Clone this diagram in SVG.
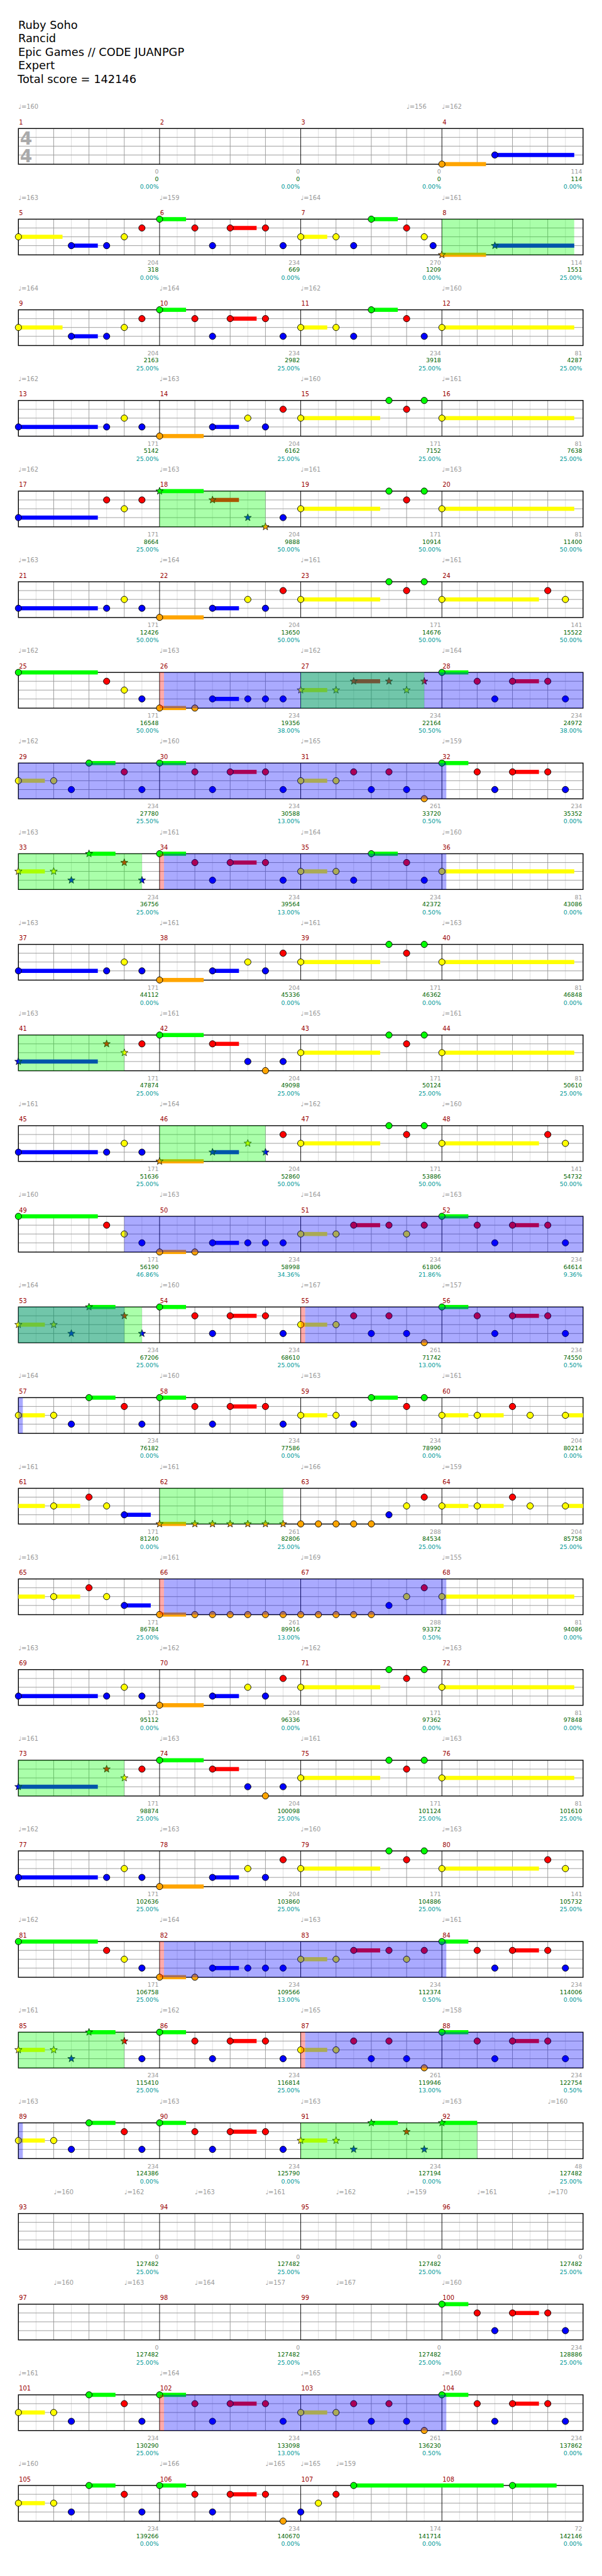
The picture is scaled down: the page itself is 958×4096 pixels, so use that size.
<svg xmlns="http://www.w3.org/2000/svg" width="958" height="4096" viewBox="0 0 958 4096">
<style>
.G{fill:#0f0}.R{fill:#f00}.Y{fill:#ff0}.B{fill:#00f}.O{fill:#ffa500}
.ob{fill:#00f;fill-opacity:.333}.og{fill:#0f0;fill-opacity:.333}.op{fill:#f00;fill-opacity:.333}
text{font-family:"DejaVu Sans",sans-serif}
.t{font-size:19px;fill:#000}
.mn{font-size:10.5px;fill:#900}
.tp{font-size:10.5px;fill:#999}
.sg,.sn,.sp{font-size:10px;text-anchor:end}
.sg{fill:#999}.sn{fill:#060}.sp{fill:#099}
.ts{font-size:30px;font-weight:bold;fill:#aaa;text-anchor:middle}
</style>
<defs>
<g id="staff">
<path d="M30 0V60.7M90 0V60.7M150 0V60.7M210 0V60.7M270 0V60.7M330 0V60.7M390 0V60.7M450 0V60.7M510 0V60.7M570 0V60.7M630 0V60.7M690 0V60.7M750 0V60.7M810 0V60.7M870 0V60.7M930 0V60.7" stroke="#ddd" stroke-width="1"/>
<path d="M0 15H960M0 30H960M0 45H960M60 0V60.7M120 0V60.7M180 0V60.7M300 0V60.7M360 0V60.7M420 0V60.7M540 0V60.7M600 0V60.7M660 0V60.7M780 0V60.7M840 0V60.7M900 0V60.7" stroke="#999" stroke-width="1"/>
<path d="M240 0V60.7M480 0V60.7M720 0V60.7" stroke="#000" stroke-width="1"/>
<rect x="0" y="0" width="960" height="60.7" fill="none" stroke="#000" stroke-width="1.5"/>
</g>
<circle id="n" r="5.4" stroke="#000" stroke-width="1"/>
<path id="s" d="M0,-6.5L1.59,-2.18L6.18,-2.01L2.57,0.83L3.82,5.26L0,2.7L-3.82,5.26L-2.57,0.83L-6.18,-2.01L-1.59,-2.18Z" stroke="#000" stroke-width="0.8" stroke-linejoin="round"/>
</defs>
<rect width="958" height="4096" fill="#fff"/>
<g transform="scale(0.936)">
<g id="header">
<text class="t" x="31" y="49">Ruby Soho</text>
<text class="t" x="31" y="72">Rancid</text>
<text class="t" x="31" y="95">Epic Games // CODE JUANPGP</text>
<text class="t" x="31" y="118">Expert</text>
<text class="t" x="30" y="141">Total score = 142146</text>
</g>

<g id="row1" transform="translate(31.3,218.3)">
<use href="#staff"/>
<text class="ts" x="13" y="27">4</text><text class="ts" x="13" y="57">4</text>
<text class="mn" x="1" y="-7">1</text><text class="mn" x="241" y="-7">2</text><text class="mn" x="481" y="-7">3</text><text class="mn" x="721" y="-7">4</text>
<text class="tp" x="0" y="-33">♩=160</text><text class="tp" x="660" y="-33">♩=156</text><text class="tp" x="720" y="-33">♩=162</text>
<rect class="O" x="720" y="57" width="75" height="7"/><rect class="B" x="810" y="41.5" width="135" height="7"/>
<use href="#n" class="O" x="720" y="60.5"/><use href="#n" class="B" x="810" y="45"/>
<text class="sg" x="238.5" y="77">0</text><text class="sn" x="238.5" y="89.4">0</text><text class="sp" x="238.5" y="102.7">0.00%</text>
<text class="sg" x="478.5" y="77">0</text><text class="sn" x="478.5" y="89.4">0</text><text class="sp" x="478.5" y="102.7">0.00%</text>
<text class="sg" x="718.5" y="77">0</text><text class="sn" x="718.5" y="89.4">0</text><text class="sp" x="718.5" y="102.7">0.00%</text>
<text class="sg" x="958.5" y="77">114</text><text class="sn" x="958.5" y="89.4">114</text><text class="sp" x="958.5" y="102.7">0.00%</text>
</g>

<g id="row2" transform="translate(31.3,372.3)">
<use href="#staff"/>
<text class="mn" x="1" y="-7">5</text><text class="mn" x="241" y="-7">6</text><text class="mn" x="481" y="-7">7</text><text class="mn" x="721" y="-7">8</text>
<text class="tp" x="0" y="-33">♩=163</text><text class="tp" x="240" y="-33">♩=159</text><text class="tp" x="480" y="-33">♩=164</text><text class="tp" x="720" y="-33">♩=161</text>
<rect class="Y" x="0" y="26.5" width="75" height="7"/><rect class="B" x="90" y="41.5" width="45" height="7"/><rect class="G" x="240" y="-3.5" width="45" height="7"/><rect class="R" x="360" y="11.5" width="45" height="7"/><rect class="Y" x="480" y="26.5" width="45" height="7"/><rect class="G" x="600" y="-3.5" width="45" height="7"/><rect class="O" x="720" y="57" width="75" height="7"/><rect class="B" x="810" y="41.5" width="135" height="7"/>
<use href="#n" class="Y" x="0" y="30"/><use href="#n" class="B" x="90" y="45"/><use href="#n" class="B" x="150" y="45"/><use href="#n" class="Y" x="180" y="30"/><use href="#n" class="R" x="210" y="15"/><use href="#n" class="G" x="240" y="0"/><use href="#n" class="R" x="300" y="15"/><use href="#n" class="B" x="330" y="45"/><use href="#n" class="R" x="360" y="15"/><use href="#n" class="R" x="420" y="15"/><use href="#n" class="B" x="450" y="45"/><use href="#n" class="Y" x="480" y="30"/><use href="#n" class="Y" x="540" y="30"/><use href="#n" class="B" x="570" y="45"/><use href="#n" class="G" x="600" y="0"/><use href="#n" class="R" x="660" y="15"/><use href="#n" class="Y" x="690" y="30"/><use href="#n" class="B" x="705" y="45"/>
<use href="#s" class="O" x="720" y="60.5"/><use href="#s" class="B" x="810" y="45"/>
<rect class="og" x="720" y="0" width="225" height="60.7"/>
<text class="sg" x="238.5" y="77">204</text><text class="sn" x="238.5" y="89.4">318</text><text class="sp" x="238.5" y="102.7">0.00%</text>
<text class="sg" x="478.5" y="77">234</text><text class="sn" x="478.5" y="89.4">669</text><text class="sp" x="478.5" y="102.7">0.00%</text>
<text class="sg" x="718.5" y="77">270</text><text class="sn" x="718.5" y="89.4">1209</text><text class="sp" x="718.5" y="102.7">0.00%</text>
<text class="sg" x="958.5" y="77">114</text><text class="sn" x="958.5" y="89.4">1551</text><text class="sp" x="958.5" y="102.7">25.00%</text>
</g>

<g id="row3" transform="translate(31.3,526.3)">
<use href="#staff"/>
<text class="mn" x="1" y="-7">9</text><text class="mn" x="241" y="-7">10</text><text class="mn" x="481" y="-7">11</text><text class="mn" x="721" y="-7">12</text>
<text class="tp" x="0" y="-33">♩=164</text><text class="tp" x="240" y="-33">♩=164</text><text class="tp" x="480" y="-33">♩=162</text><text class="tp" x="720" y="-33">♩=160</text>
<rect class="Y" x="0" y="26.5" width="75" height="7"/><rect class="B" x="90" y="41.5" width="45" height="7"/><rect class="G" x="240" y="-3.5" width="45" height="7"/><rect class="R" x="360" y="11.5" width="45" height="7"/><rect class="Y" x="480" y="26.5" width="45" height="7"/><rect class="G" x="600" y="-3.5" width="45" height="7"/><rect class="Y" x="720" y="26.5" width="225" height="7"/>
<use href="#n" class="Y" x="0" y="30"/><use href="#n" class="B" x="90" y="45"/><use href="#n" class="B" x="150" y="45"/><use href="#n" class="Y" x="180" y="30"/><use href="#n" class="R" x="210" y="15"/><use href="#n" class="G" x="240" y="0"/><use href="#n" class="R" x="300" y="15"/><use href="#n" class="B" x="330" y="45"/><use href="#n" class="R" x="360" y="15"/><use href="#n" class="R" x="420" y="15"/><use href="#n" class="B" x="450" y="45"/><use href="#n" class="Y" x="480" y="30"/><use href="#n" class="Y" x="540" y="30"/><use href="#n" class="B" x="570" y="45"/><use href="#n" class="G" x="600" y="0"/><use href="#n" class="R" x="660" y="15"/><use href="#n" class="B" x="690" y="45"/><use href="#n" class="Y" x="720" y="30"/>
<text class="sg" x="238.5" y="77">204</text><text class="sn" x="238.5" y="89.4">2163</text><text class="sp" x="238.5" y="102.7">25.00%</text>
<text class="sg" x="478.5" y="77">234</text><text class="sn" x="478.5" y="89.4">2982</text><text class="sp" x="478.5" y="102.7">25.00%</text>
<text class="sg" x="718.5" y="77">234</text><text class="sn" x="718.5" y="89.4">3918</text><text class="sp" x="718.5" y="102.7">25.00%</text>
<text class="sg" x="958.5" y="77">81</text><text class="sn" x="958.5" y="89.4">4287</text><text class="sp" x="958.5" y="102.7">25.00%</text>
</g>

<g id="row4" transform="translate(31.3,680.3)">
<use href="#staff"/>
<text class="mn" x="1" y="-7">13</text><text class="mn" x="241" y="-7">14</text><text class="mn" x="481" y="-7">15</text><text class="mn" x="721" y="-7">16</text>
<text class="tp" x="0" y="-33">♩=162</text><text class="tp" x="240" y="-33">♩=163</text><text class="tp" x="480" y="-33">♩=160</text><text class="tp" x="720" y="-33">♩=161</text>
<rect class="B" x="0" y="41.5" width="135" height="7"/><rect class="O" x="240" y="57" width="75" height="7"/><rect class="B" x="330" y="41.5" width="45" height="7"/><rect class="Y" x="480" y="26.5" width="135" height="7"/><rect class="Y" x="720" y="26.5" width="225" height="7"/>
<use href="#n" class="B" x="0" y="45"/><use href="#n" class="B" x="150" y="45"/><use href="#n" class="Y" x="180" y="30"/><use href="#n" class="B" x="210" y="45"/><use href="#n" class="O" x="240" y="60.5"/><use href="#n" class="B" x="330" y="45"/><use href="#n" class="Y" x="390" y="30"/><use href="#n" class="B" x="420" y="45"/><use href="#n" class="R" x="450" y="15"/><use href="#n" class="Y" x="480" y="30"/><use href="#n" class="G" x="630" y="0"/><use href="#n" class="R" x="660" y="15"/><use href="#n" class="G" x="690" y="0"/><use href="#n" class="Y" x="720" y="30"/>
<text class="sg" x="238.5" y="77">171</text><text class="sn" x="238.5" y="89.4">5142</text><text class="sp" x="238.5" y="102.7">25.00%</text>
<text class="sg" x="478.5" y="77">204</text><text class="sn" x="478.5" y="89.4">6162</text><text class="sp" x="478.5" y="102.7">25.00%</text>
<text class="sg" x="718.5" y="77">171</text><text class="sn" x="718.5" y="89.4">7152</text><text class="sp" x="718.5" y="102.7">25.00%</text>
<text class="sg" x="958.5" y="77">81</text><text class="sn" x="958.5" y="89.4">7638</text><text class="sp" x="958.5" y="102.7">25.00%</text>
</g>

<g id="row5" transform="translate(31.3,834.3)">
<use href="#staff"/>
<text class="mn" x="1" y="-7">17</text><text class="mn" x="241" y="-7">18</text><text class="mn" x="481" y="-7">19</text><text class="mn" x="721" y="-7">20</text>
<text class="tp" x="0" y="-33">♩=162</text><text class="tp" x="240" y="-33">♩=163</text><text class="tp" x="480" y="-33">♩=161</text><text class="tp" x="720" y="-33">♩=163</text>
<rect class="B" x="0" y="41.5" width="135" height="7"/><rect class="G" x="240" y="-3.5" width="75" height="7"/><rect class="R" x="330" y="11.5" width="45" height="7"/><rect class="Y" x="480" y="26.5" width="135" height="7"/><rect class="Y" x="720" y="26.5" width="225" height="7"/>
<use href="#n" class="B" x="0" y="45"/><use href="#n" class="R" x="150" y="15"/><use href="#n" class="Y" x="180" y="30"/><use href="#n" class="R" x="210" y="15"/>
<use href="#s" class="G" x="240" y="0"/><use href="#s" class="R" x="330" y="15"/><use href="#s" class="B" x="390" y="45"/><use href="#s" class="O" x="420" y="60.5"/>
<use href="#n" class="B" x="450" y="45"/><use href="#n" class="Y" x="480" y="30"/><use href="#n" class="G" x="630" y="0"/><use href="#n" class="R" x="660" y="15"/><use href="#n" class="G" x="690" y="0"/><use href="#n" class="Y" x="720" y="30"/>
<rect class="og" x="240" y="0" width="180" height="60.7"/>
<text class="sg" x="238.5" y="77">171</text><text class="sn" x="238.5" y="89.4">8664</text><text class="sp" x="238.5" y="102.7">25.00%</text>
<text class="sg" x="478.5" y="77">204</text><text class="sn" x="478.5" y="89.4">9888</text><text class="sp" x="478.5" y="102.7">50.00%</text>
<text class="sg" x="718.5" y="77">171</text><text class="sn" x="718.5" y="89.4">10914</text><text class="sp" x="718.5" y="102.7">50.00%</text>
<text class="sg" x="958.5" y="77">81</text><text class="sn" x="958.5" y="89.4">11400</text><text class="sp" x="958.5" y="102.7">50.00%</text>
</g>

<g id="row6" transform="translate(31.3,988.3)">
<use href="#staff"/>
<text class="mn" x="1" y="-7">21</text><text class="mn" x="241" y="-7">22</text><text class="mn" x="481" y="-7">23</text><text class="mn" x="721" y="-7">24</text>
<text class="tp" x="0" y="-33">♩=163</text><text class="tp" x="240" y="-33">♩=164</text><text class="tp" x="480" y="-33">♩=161</text><text class="tp" x="720" y="-33">♩=161</text>
<rect class="B" x="0" y="41.5" width="135" height="7"/><rect class="O" x="240" y="57" width="75" height="7"/><rect class="B" x="330" y="41.5" width="45" height="7"/><rect class="Y" x="480" y="26.5" width="135" height="7"/><rect class="Y" x="720" y="26.5" width="165" height="7"/>
<use href="#n" class="B" x="0" y="45"/><use href="#n" class="B" x="150" y="45"/><use href="#n" class="Y" x="180" y="30"/><use href="#n" class="B" x="210" y="45"/><use href="#n" class="O" x="240" y="60.5"/><use href="#n" class="B" x="330" y="45"/><use href="#n" class="Y" x="390" y="30"/><use href="#n" class="B" x="420" y="45"/><use href="#n" class="R" x="450" y="15"/><use href="#n" class="Y" x="480" y="30"/><use href="#n" class="G" x="630" y="0"/><use href="#n" class="R" x="660" y="15"/><use href="#n" class="G" x="690" y="0"/><use href="#n" class="Y" x="720" y="30"/><use href="#n" class="R" x="900" y="15"/><use href="#n" class="Y" x="930" y="30"/>
<text class="sg" x="238.5" y="77">171</text><text class="sn" x="238.5" y="89.4">12426</text><text class="sp" x="238.5" y="102.7">50.00%</text>
<text class="sg" x="478.5" y="77">204</text><text class="sn" x="478.5" y="89.4">13650</text><text class="sp" x="478.5" y="102.7">50.00%</text>
<text class="sg" x="718.5" y="77">171</text><text class="sn" x="718.5" y="89.4">14676</text><text class="sp" x="718.5" y="102.7">50.00%</text>
<text class="sg" x="958.5" y="77">141</text><text class="sn" x="958.5" y="89.4">15522</text><text class="sp" x="958.5" y="102.7">50.00%</text>
</g>

<g id="row7" transform="translate(31.3,1142.3)">
<use href="#staff"/>
<text class="mn" x="1" y="-7">25</text><text class="mn" x="241" y="-7">26</text><text class="mn" x="481" y="-7">27</text><text class="mn" x="721" y="-7">28</text>
<text class="tp" x="0" y="-33">♩=162</text><text class="tp" x="240" y="-33">♩=163</text><text class="tp" x="480" y="-33">♩=162</text><text class="tp" x="720" y="-33">♩=164</text>
<rect class="G" x="0" y="-3.5" width="135" height="7"/><rect class="O" x="240" y="57" width="45" height="7"/><rect class="B" x="330" y="41.5" width="45" height="7"/><rect class="Y" x="480" y="26.5" width="45" height="7"/><rect class="R" x="570" y="11.5" width="45" height="7"/><rect class="G" x="720" y="-3.5" width="45" height="7"/><rect class="R" x="840" y="11.5" width="45" height="7"/>
<use href="#n" class="G" x="0" y="0"/><use href="#n" class="R" x="150" y="15"/><use href="#n" class="Y" x="180" y="30"/><use href="#n" class="B" x="210" y="45"/><use href="#n" class="O" x="240" y="60.5"/><use href="#n" class="O" x="300" y="60.5"/><use href="#n" class="B" x="330" y="45"/><use href="#n" class="B" x="390" y="45"/><use href="#n" class="B" x="420" y="45"/><use href="#n" class="B" x="450" y="45"/>
<use href="#s" class="Y" x="480" y="30"/><use href="#s" class="Y" x="540" y="30"/><use href="#s" class="R" x="570" y="15"/><use href="#s" class="R" x="630" y="15"/><use href="#s" class="Y" x="660" y="30"/><use href="#s" class="R" x="690" y="15"/>
<use href="#n" class="G" x="720" y="0"/><use href="#n" class="R" x="780" y="15"/><use href="#n" class="B" x="810" y="45"/><use href="#n" class="R" x="840" y="15"/><use href="#n" class="R" x="900" y="15"/><use href="#n" class="B" x="930" y="45"/>
<rect class="op" x="240" y="0" width="7.5" height="60.7"/><rect class="ob" x="247.5" y="0" width="712.5" height="60.7"/><rect class="og" x="480" y="0" width="210" height="60.7"/>
<text class="sg" x="238.5" y="77">171</text><text class="sn" x="238.5" y="89.4">16548</text><text class="sp" x="238.5" y="102.7">50.00%</text>
<text class="sg" x="478.5" y="77">234</text><text class="sn" x="478.5" y="89.4">19356</text><text class="sp" x="478.5" y="102.7">38.00%</text>
<text class="sg" x="718.5" y="77">234</text><text class="sn" x="718.5" y="89.4">22164</text><text class="sp" x="718.5" y="102.7">50.50%</text>
<text class="sg" x="958.5" y="77">234</text><text class="sn" x="958.5" y="89.4">24972</text><text class="sp" x="958.5" y="102.7">38.00%</text>
</g>

<g id="row8" transform="translate(31.3,1296.3)">
<use href="#staff"/>
<text class="mn" x="1" y="-7">29</text><text class="mn" x="241" y="-7">30</text><text class="mn" x="481" y="-7">31</text><text class="mn" x="721" y="-7">32</text>
<text class="tp" x="0" y="-33">♩=162</text><text class="tp" x="240" y="-33">♩=160</text><text class="tp" x="480" y="-33">♩=165</text><text class="tp" x="720" y="-33">♩=159</text>
<rect class="Y" x="0" y="26.5" width="45" height="7"/><rect class="G" x="120" y="-3.5" width="45" height="7"/><rect class="G" x="240" y="-3.5" width="45" height="7"/><rect class="R" x="360" y="11.5" width="45" height="7"/><rect class="Y" x="480" y="26.5" width="45" height="7"/><rect class="G" x="720" y="-3.5" width="45" height="7"/><rect class="R" x="840" y="11.5" width="45" height="7"/>
<use href="#n" class="Y" x="0" y="30"/><use href="#n" class="Y" x="60" y="30"/><use href="#n" class="B" x="90" y="45"/><use href="#n" class="G" x="120" y="0"/><use href="#n" class="R" x="180" y="15"/><use href="#n" class="B" x="210" y="45"/><use href="#n" class="G" x="240" y="0"/><use href="#n" class="R" x="300" y="15"/><use href="#n" class="B" x="330" y="45"/><use href="#n" class="R" x="360" y="15"/><use href="#n" class="R" x="420" y="15"/><use href="#n" class="B" x="450" y="45"/><use href="#n" class="Y" x="480" y="30"/><use href="#n" class="Y" x="540" y="30"/><use href="#n" class="R" x="570" y="15"/><use href="#n" class="B" x="600" y="45"/><use href="#n" class="R" x="630" y="15"/><use href="#n" class="B" x="660" y="45"/><use href="#n" class="O" x="690" y="60.5"/><use href="#n" class="G" x="720" y="0"/><use href="#n" class="R" x="780" y="15"/><use href="#n" class="B" x="810" y="45"/><use href="#n" class="R" x="840" y="15"/><use href="#n" class="R" x="900" y="15"/><use href="#n" class="B" x="930" y="45"/>
<rect class="ob" x="0" y="0" width="727.5" height="60.7"/>
<text class="sg" x="238.5" y="77">234</text><text class="sn" x="238.5" y="89.4">27780</text><text class="sp" x="238.5" y="102.7">25.50%</text>
<text class="sg" x="478.5" y="77">234</text><text class="sn" x="478.5" y="89.4">30588</text><text class="sp" x="478.5" y="102.7">13.00%</text>
<text class="sg" x="718.5" y="77">261</text><text class="sn" x="718.5" y="89.4">33720</text><text class="sp" x="718.5" y="102.7">0.50%</text>
<text class="sg" x="958.5" y="77">234</text><text class="sn" x="958.5" y="89.4">35352</text><text class="sp" x="958.5" y="102.7">0.00%</text>
</g>

<g id="row9" transform="translate(31.3,1450.3)">
<use href="#staff"/>
<text class="mn" x="1" y="-7">33</text><text class="mn" x="241" y="-7">34</text><text class="mn" x="481" y="-7">35</text><text class="mn" x="721" y="-7">36</text>
<text class="tp" x="0" y="-33">♩=163</text><text class="tp" x="240" y="-33">♩=161</text><text class="tp" x="480" y="-33">♩=164</text><text class="tp" x="720" y="-33">♩=160</text>
<rect class="Y" x="0" y="26.5" width="45" height="7"/><rect class="G" x="120" y="-3.5" width="45" height="7"/><rect class="G" x="240" y="-3.5" width="45" height="7"/><rect class="R" x="360" y="11.5" width="45" height="7"/><rect class="Y" x="480" y="26.5" width="45" height="7"/><rect class="G" x="600" y="-3.5" width="45" height="7"/><rect class="Y" x="720" y="26.5" width="225" height="7"/>
<use href="#s" class="Y" x="0" y="30"/><use href="#s" class="Y" x="60" y="30"/><use href="#s" class="B" x="90" y="45"/><use href="#s" class="G" x="120" y="0"/><use href="#s" class="R" x="180" y="15"/><use href="#s" class="B" x="210" y="45"/>
<use href="#n" class="G" x="240" y="0"/><use href="#n" class="R" x="300" y="15"/><use href="#n" class="B" x="330" y="45"/><use href="#n" class="R" x="360" y="15"/><use href="#n" class="R" x="420" y="15"/><use href="#n" class="B" x="450" y="45"/><use href="#n" class="Y" x="480" y="30"/><use href="#n" class="Y" x="540" y="30"/><use href="#n" class="B" x="570" y="45"/><use href="#n" class="G" x="600" y="0"/><use href="#n" class="R" x="660" y="15"/><use href="#n" class="B" x="690" y="45"/><use href="#n" class="Y" x="720" y="30"/>
<rect class="og" x="0" y="0" width="210" height="60.7"/><rect class="op" x="240" y="0" width="7.5" height="60.7"/><rect class="ob" x="247.5" y="0" width="480" height="60.7"/>
<text class="sg" x="238.5" y="77">234</text><text class="sn" x="238.5" y="89.4">36756</text><text class="sp" x="238.5" y="102.7">25.00%</text>
<text class="sg" x="478.5" y="77">234</text><text class="sn" x="478.5" y="89.4">39564</text><text class="sp" x="478.5" y="102.7">13.00%</text>
<text class="sg" x="718.5" y="77">234</text><text class="sn" x="718.5" y="89.4">42372</text><text class="sp" x="718.5" y="102.7">0.50%</text>
<text class="sg" x="958.5" y="77">81</text><text class="sn" x="958.5" y="89.4">43086</text><text class="sp" x="958.5" y="102.7">0.00%</text>
</g>

<g id="row10" transform="translate(31.3,1604.3)">
<use href="#staff"/>
<text class="mn" x="1" y="-7">37</text><text class="mn" x="241" y="-7">38</text><text class="mn" x="481" y="-7">39</text><text class="mn" x="721" y="-7">40</text>
<text class="tp" x="0" y="-33">♩=163</text><text class="tp" x="240" y="-33">♩=161</text><text class="tp" x="480" y="-33">♩=161</text><text class="tp" x="720" y="-33">♩=163</text>
<rect class="B" x="0" y="41.5" width="135" height="7"/><rect class="O" x="240" y="57" width="75" height="7"/><rect class="B" x="330" y="41.5" width="45" height="7"/><rect class="Y" x="480" y="26.5" width="135" height="7"/><rect class="Y" x="720" y="26.5" width="225" height="7"/>
<use href="#n" class="B" x="0" y="45"/><use href="#n" class="B" x="150" y="45"/><use href="#n" class="Y" x="180" y="30"/><use href="#n" class="B" x="210" y="45"/><use href="#n" class="O" x="240" y="60.5"/><use href="#n" class="B" x="330" y="45"/><use href="#n" class="Y" x="390" y="30"/><use href="#n" class="B" x="420" y="45"/><use href="#n" class="R" x="450" y="15"/><use href="#n" class="Y" x="480" y="30"/><use href="#n" class="G" x="630" y="0"/><use href="#n" class="R" x="660" y="15"/><use href="#n" class="G" x="690" y="0"/><use href="#n" class="Y" x="720" y="30"/>
<text class="sg" x="238.5" y="77">171</text><text class="sn" x="238.5" y="89.4">44112</text><text class="sp" x="238.5" y="102.7">0.00%</text>
<text class="sg" x="478.5" y="77">204</text><text class="sn" x="478.5" y="89.4">45336</text><text class="sp" x="478.5" y="102.7">0.00%</text>
<text class="sg" x="718.5" y="77">171</text><text class="sn" x="718.5" y="89.4">46362</text><text class="sp" x="718.5" y="102.7">0.00%</text>
<text class="sg" x="958.5" y="77">81</text><text class="sn" x="958.5" y="89.4">46848</text><text class="sp" x="958.5" y="102.7">0.00%</text>
</g>

<g id="row11" transform="translate(31.3,1758.3)">
<use href="#staff"/>
<text class="mn" x="1" y="-7">41</text><text class="mn" x="241" y="-7">42</text><text class="mn" x="481" y="-7">43</text><text class="mn" x="721" y="-7">44</text>
<text class="tp" x="0" y="-33">♩=163</text><text class="tp" x="240" y="-33">♩=161</text><text class="tp" x="480" y="-33">♩=165</text><text class="tp" x="720" y="-33">♩=161</text>
<rect class="B" x="0" y="41.5" width="135" height="7"/><rect class="G" x="240" y="-3.5" width="75" height="7"/><rect class="R" x="330" y="11.5" width="45" height="7"/><rect class="Y" x="480" y="26.5" width="135" height="7"/><rect class="Y" x="720" y="26.5" width="225" height="7"/>
<use href="#s" class="B" x="0" y="45"/><use href="#s" class="R" x="150" y="15"/><use href="#s" class="Y" x="180" y="30"/>
<use href="#n" class="R" x="210" y="15"/><use href="#n" class="G" x="240" y="0"/><use href="#n" class="R" x="330" y="15"/><use href="#n" class="B" x="390" y="45"/><use href="#n" class="O" x="420" y="60.5"/><use href="#n" class="B" x="450" y="45"/><use href="#n" class="Y" x="480" y="30"/><use href="#n" class="G" x="630" y="0"/><use href="#n" class="R" x="660" y="15"/><use href="#n" class="G" x="690" y="0"/><use href="#n" class="Y" x="720" y="30"/>
<rect class="og" x="0" y="0" width="180" height="60.7"/>
<text class="sg" x="238.5" y="77">171</text><text class="sn" x="238.5" y="89.4">47874</text><text class="sp" x="238.5" y="102.7">25.00%</text>
<text class="sg" x="478.5" y="77">204</text><text class="sn" x="478.5" y="89.4">49098</text><text class="sp" x="478.5" y="102.7">25.00%</text>
<text class="sg" x="718.5" y="77">171</text><text class="sn" x="718.5" y="89.4">50124</text><text class="sp" x="718.5" y="102.7">25.00%</text>
<text class="sg" x="958.5" y="77">81</text><text class="sn" x="958.5" y="89.4">50610</text><text class="sp" x="958.5" y="102.7">25.00%</text>
</g>

<g id="row12" transform="translate(31.3,1912.3)">
<use href="#staff"/>
<text class="mn" x="1" y="-7">45</text><text class="mn" x="241" y="-7">46</text><text class="mn" x="481" y="-7">47</text><text class="mn" x="721" y="-7">48</text>
<text class="tp" x="0" y="-33">♩=161</text><text class="tp" x="240" y="-33">♩=164</text><text class="tp" x="480" y="-33">♩=162</text><text class="tp" x="720" y="-33">♩=160</text>
<rect class="B" x="0" y="41.5" width="135" height="7"/><rect class="O" x="240" y="57" width="75" height="7"/><rect class="B" x="330" y="41.5" width="45" height="7"/><rect class="Y" x="480" y="26.5" width="135" height="7"/><rect class="Y" x="720" y="26.5" width="165" height="7"/>
<use href="#n" class="B" x="0" y="45"/><use href="#n" class="B" x="150" y="45"/><use href="#n" class="Y" x="180" y="30"/><use href="#n" class="B" x="210" y="45"/>
<use href="#s" class="O" x="240" y="60.5"/><use href="#s" class="B" x="330" y="45"/><use href="#s" class="Y" x="390" y="30"/><use href="#s" class="B" x="420" y="45"/>
<use href="#n" class="R" x="450" y="15"/><use href="#n" class="Y" x="480" y="30"/><use href="#n" class="G" x="630" y="0"/><use href="#n" class="R" x="660" y="15"/><use href="#n" class="G" x="690" y="0"/><use href="#n" class="Y" x="720" y="30"/><use href="#n" class="R" x="900" y="15"/><use href="#n" class="Y" x="930" y="30"/>
<rect class="og" x="240" y="0" width="180" height="60.7"/>
<text class="sg" x="238.5" y="77">171</text><text class="sn" x="238.5" y="89.4">51636</text><text class="sp" x="238.5" y="102.7">25.00%</text>
<text class="sg" x="478.5" y="77">204</text><text class="sn" x="478.5" y="89.4">52860</text><text class="sp" x="478.5" y="102.7">50.00%</text>
<text class="sg" x="718.5" y="77">171</text><text class="sn" x="718.5" y="89.4">53886</text><text class="sp" x="718.5" y="102.7">50.00%</text>
<text class="sg" x="958.5" y="77">141</text><text class="sn" x="958.5" y="89.4">54732</text><text class="sp" x="958.5" y="102.7">50.00%</text>
</g>

<g id="row13" transform="translate(31.3,2066.3)">
<use href="#staff"/>
<text class="mn" x="1" y="-7">49</text><text class="mn" x="241" y="-7">50</text><text class="mn" x="481" y="-7">51</text><text class="mn" x="721" y="-7">52</text>
<text class="tp" x="0" y="-33">♩=160</text><text class="tp" x="240" y="-33">♩=163</text><text class="tp" x="480" y="-33">♩=164</text><text class="tp" x="720" y="-33">♩=163</text>
<rect class="G" x="0" y="-3.5" width="135" height="7"/><rect class="O" x="240" y="57" width="45" height="7"/><rect class="B" x="330" y="41.5" width="45" height="7"/><rect class="Y" x="480" y="26.5" width="45" height="7"/><rect class="R" x="570" y="11.5" width="45" height="7"/><rect class="G" x="720" y="-3.5" width="45" height="7"/><rect class="R" x="840" y="11.5" width="45" height="7"/>
<use href="#n" class="G" x="0" y="0"/><use href="#n" class="R" x="150" y="15"/><use href="#n" class="Y" x="180" y="30"/><use href="#n" class="B" x="210" y="45"/><use href="#n" class="O" x="240" y="60.5"/><use href="#n" class="O" x="300" y="60.5"/><use href="#n" class="B" x="330" y="45"/><use href="#n" class="B" x="390" y="45"/><use href="#n" class="B" x="420" y="45"/><use href="#n" class="B" x="450" y="45"/><use href="#n" class="Y" x="480" y="30"/><use href="#n" class="Y" x="540" y="30"/><use href="#n" class="R" x="570" y="15"/><use href="#n" class="R" x="630" y="15"/><use href="#n" class="Y" x="660" y="30"/><use href="#n" class="R" x="690" y="15"/><use href="#n" class="G" x="720" y="0"/><use href="#n" class="R" x="780" y="15"/><use href="#n" class="B" x="810" y="45"/><use href="#n" class="R" x="840" y="15"/><use href="#n" class="R" x="900" y="15"/><use href="#n" class="B" x="930" y="45"/>
<rect class="ob" x="180" y="0" width="780" height="60.7"/>
<text class="sg" x="238.5" y="77">171</text><text class="sn" x="238.5" y="89.4">56190</text><text class="sp" x="238.5" y="102.7">46.86%</text>
<text class="sg" x="478.5" y="77">234</text><text class="sn" x="478.5" y="89.4">58998</text><text class="sp" x="478.5" y="102.7">34.36%</text>
<text class="sg" x="718.5" y="77">234</text><text class="sn" x="718.5" y="89.4">61806</text><text class="sp" x="718.5" y="102.7">21.86%</text>
<text class="sg" x="958.5" y="77">234</text><text class="sn" x="958.5" y="89.4">64614</text><text class="sp" x="958.5" y="102.7">9.36%</text>
</g>

<g id="row14" transform="translate(31.3,2220.3)">
<use href="#staff"/>
<text class="mn" x="1" y="-7">53</text><text class="mn" x="241" y="-7">54</text><text class="mn" x="481" y="-7">55</text><text class="mn" x="721" y="-7">56</text>
<text class="tp" x="0" y="-33">♩=164</text><text class="tp" x="240" y="-33">♩=160</text><text class="tp" x="480" y="-33">♩=167</text><text class="tp" x="720" y="-33">♩=157</text>
<rect class="Y" x="0" y="26.5" width="45" height="7"/><rect class="G" x="120" y="-3.5" width="45" height="7"/><rect class="G" x="240" y="-3.5" width="45" height="7"/><rect class="R" x="360" y="11.5" width="45" height="7"/><rect class="Y" x="480" y="26.5" width="45" height="7"/><rect class="G" x="720" y="-3.5" width="45" height="7"/><rect class="R" x="840" y="11.5" width="45" height="7"/>
<use href="#s" class="Y" x="0" y="30"/><use href="#s" class="Y" x="60" y="30"/><use href="#s" class="B" x="90" y="45"/><use href="#s" class="G" x="120" y="0"/><use href="#s" class="R" x="180" y="15"/><use href="#s" class="B" x="210" y="45"/>
<use href="#n" class="G" x="240" y="0"/><use href="#n" class="R" x="300" y="15"/><use href="#n" class="B" x="330" y="45"/><use href="#n" class="R" x="360" y="15"/><use href="#n" class="R" x="420" y="15"/><use href="#n" class="B" x="450" y="45"/><use href="#n" class="Y" x="480" y="30"/><use href="#n" class="Y" x="540" y="30"/><use href="#n" class="R" x="570" y="15"/><use href="#n" class="B" x="600" y="45"/><use href="#n" class="R" x="630" y="15"/><use href="#n" class="B" x="660" y="45"/><use href="#n" class="O" x="690" y="60.5"/><use href="#n" class="G" x="720" y="0"/><use href="#n" class="R" x="780" y="15"/><use href="#n" class="B" x="810" y="45"/><use href="#n" class="R" x="840" y="15"/><use href="#n" class="R" x="900" y="15"/><use href="#n" class="B" x="930" y="45"/>
<rect class="ob" x="0" y="0" width="180" height="60.7"/><rect class="og" x="0" y="0" width="210" height="60.7"/><rect class="op" x="480" y="0" width="7.5" height="60.7"/><rect class="ob" x="487.5" y="0" width="472.5" height="60.7"/>
<text class="sg" x="238.5" y="77">234</text><text class="sn" x="238.5" y="89.4">67206</text><text class="sp" x="238.5" y="102.7">25.00%</text>
<text class="sg" x="478.5" y="77">234</text><text class="sn" x="478.5" y="89.4">68610</text><text class="sp" x="478.5" y="102.7">25.00%</text>
<text class="sg" x="718.5" y="77">261</text><text class="sn" x="718.5" y="89.4">71742</text><text class="sp" x="718.5" y="102.7">13.00%</text>
<text class="sg" x="958.5" y="77">234</text><text class="sn" x="958.5" y="89.4">74550</text><text class="sp" x="958.5" y="102.7">0.50%</text>
</g>

<g id="row15" transform="translate(31.3,2374.3)">
<use href="#staff"/>
<text class="mn" x="1" y="-7">57</text><text class="mn" x="241" y="-7">58</text><text class="mn" x="481" y="-7">59</text><text class="mn" x="721" y="-7">60</text>
<text class="tp" x="0" y="-33">♩=164</text><text class="tp" x="240" y="-33">♩=160</text><text class="tp" x="480" y="-33">♩=163</text><text class="tp" x="720" y="-33">♩=161</text>
<rect class="Y" x="0" y="26.5" width="45" height="7"/><rect class="G" x="120" y="-3.5" width="45" height="7"/><rect class="G" x="240" y="-3.5" width="45" height="7"/><rect class="R" x="360" y="11.5" width="45" height="7"/><rect class="Y" x="480" y="26.5" width="45" height="7"/><rect class="G" x="600" y="-3.5" width="45" height="7"/><rect class="Y" x="720" y="26.5" width="45" height="7"/><rect class="Y" x="780" y="26.5" width="45" height="7"/><rect class="Y" x="930" y="26.5" width="30" height="7"/>
<use href="#n" class="Y" x="0" y="30"/><use href="#n" class="Y" x="60" y="30"/><use href="#n" class="B" x="90" y="45"/><use href="#n" class="G" x="120" y="0"/><use href="#n" class="R" x="180" y="15"/><use href="#n" class="B" x="210" y="45"/><use href="#n" class="G" x="240" y="0"/><use href="#n" class="R" x="300" y="15"/><use href="#n" class="B" x="330" y="45"/><use href="#n" class="R" x="360" y="15"/><use href="#n" class="R" x="420" y="15"/><use href="#n" class="B" x="450" y="45"/><use href="#n" class="Y" x="480" y="30"/><use href="#n" class="Y" x="540" y="30"/><use href="#n" class="B" x="570" y="45"/><use href="#n" class="G" x="600" y="0"/><use href="#n" class="R" x="660" y="15"/><use href="#n" class="G" x="690" y="0"/><use href="#n" class="Y" x="720" y="30"/><use href="#n" class="Y" x="780" y="30"/><use href="#n" class="R" x="840" y="15"/><use href="#n" class="Y" x="870" y="30"/><use href="#n" class="Y" x="930" y="30"/>
<rect class="ob" x="0" y="0" width="7.5" height="60.7"/>
<text class="sg" x="238.5" y="77">234</text><text class="sn" x="238.5" y="89.4">76182</text><text class="sp" x="238.5" y="102.7">0.00%</text>
<text class="sg" x="478.5" y="77">234</text><text class="sn" x="478.5" y="89.4">77586</text><text class="sp" x="478.5" y="102.7">0.00%</text>
<text class="sg" x="718.5" y="77">234</text><text class="sn" x="718.5" y="89.4">78990</text><text class="sp" x="718.5" y="102.7">0.00%</text>
<text class="sg" x="958.5" y="77">204</text><text class="sn" x="958.5" y="89.4">80214</text><text class="sp" x="958.5" y="102.7">0.00%</text>
</g>

<g id="row16" transform="translate(31.3,2528.3)">
<use href="#staff"/>
<text class="mn" x="1" y="-7">61</text><text class="mn" x="241" y="-7">62</text><text class="mn" x="481" y="-7">63</text><text class="mn" x="721" y="-7">64</text>
<text class="tp" x="0" y="-33">♩=161</text><text class="tp" x="240" y="-33">♩=161</text><text class="tp" x="480" y="-33">♩=166</text><text class="tp" x="720" y="-33">♩=159</text>
<rect class="Y" x="0" y="26.5" width="45" height="7"/><rect class="Y" x="60" y="26.5" width="45" height="7"/><rect class="B" x="180" y="41.5" width="45" height="7"/><rect class="O" x="240" y="57" width="45" height="7"/><rect class="Y" x="720" y="26.5" width="45" height="7"/><rect class="Y" x="780" y="26.5" width="45" height="7"/><rect class="Y" x="930" y="26.5" width="30" height="7"/>
<use href="#n" class="Y" x="60" y="30"/><use href="#n" class="R" x="120" y="15"/><use href="#n" class="Y" x="150" y="30"/><use href="#n" class="B" x="180" y="45"/>
<use href="#s" class="O" x="240" y="60.5"/><use href="#s" class="O" x="300" y="60.5"/><use href="#s" class="O" x="330" y="60.5"/><use href="#s" class="O" x="360" y="60.5"/><use href="#s" class="O" x="390" y="60.5"/><use href="#s" class="O" x="420" y="60.5"/><use href="#s" class="O" x="450" y="60.5"/>
<use href="#n" class="O" x="480" y="60.5"/><use href="#n" class="O" x="510" y="60.5"/><use href="#n" class="O" x="540" y="60.5"/><use href="#n" class="O" x="570" y="60.5"/><use href="#n" class="O" x="600" y="60.5"/><use href="#n" class="B" x="630" y="45"/><use href="#n" class="Y" x="660" y="30"/><use href="#n" class="R" x="690" y="15"/><use href="#n" class="Y" x="720" y="30"/><use href="#n" class="Y" x="780" y="30"/><use href="#n" class="R" x="840" y="15"/><use href="#n" class="Y" x="870" y="30"/><use href="#n" class="Y" x="930" y="30"/>
<rect class="og" x="240" y="0" width="210" height="60.7"/>
<text class="sg" x="238.5" y="77">171</text><text class="sn" x="238.5" y="89.4">81240</text><text class="sp" x="238.5" y="102.7">0.00%</text>
<text class="sg" x="478.5" y="77">261</text><text class="sn" x="478.5" y="89.4">82806</text><text class="sp" x="478.5" y="102.7">25.00%</text>
<text class="sg" x="718.5" y="77">288</text><text class="sn" x="718.5" y="89.4">84534</text><text class="sp" x="718.5" y="102.7">25.00%</text>
<text class="sg" x="958.5" y="77">204</text><text class="sn" x="958.5" y="89.4">85758</text><text class="sp" x="958.5" y="102.7">25.00%</text>
</g>

<g id="row17" transform="translate(31.3,2682.3)">
<use href="#staff"/>
<text class="mn" x="1" y="-7">65</text><text class="mn" x="241" y="-7">66</text><text class="mn" x="481" y="-7">67</text><text class="mn" x="721" y="-7">68</text>
<text class="tp" x="0" y="-33">♩=163</text><text class="tp" x="240" y="-33">♩=161</text><text class="tp" x="480" y="-33">♩=169</text><text class="tp" x="720" y="-33">♩=155</text>
<rect class="Y" x="0" y="26.5" width="45" height="7"/><rect class="Y" x="60" y="26.5" width="45" height="7"/><rect class="B" x="180" y="41.5" width="45" height="7"/><rect class="O" x="240" y="57" width="45" height="7"/><rect class="Y" x="720" y="26.5" width="225" height="7"/>
<use href="#n" class="Y" x="60" y="30"/><use href="#n" class="R" x="120" y="15"/><use href="#n" class="Y" x="150" y="30"/><use href="#n" class="B" x="180" y="45"/><use href="#n" class="O" x="240" y="60.5"/><use href="#n" class="O" x="300" y="60.5"/><use href="#n" class="O" x="330" y="60.5"/><use href="#n" class="O" x="360" y="60.5"/><use href="#n" class="O" x="390" y="60.5"/><use href="#n" class="O" x="420" y="60.5"/><use href="#n" class="O" x="450" y="60.5"/><use href="#n" class="O" x="480" y="60.5"/><use href="#n" class="O" x="510" y="60.5"/><use href="#n" class="O" x="540" y="60.5"/><use href="#n" class="O" x="570" y="60.5"/><use href="#n" class="O" x="600" y="60.5"/><use href="#n" class="B" x="630" y="45"/><use href="#n" class="Y" x="660" y="30"/><use href="#n" class="R" x="690" y="15"/><use href="#n" class="Y" x="720" y="30"/>
<rect class="op" x="240" y="0" width="7.5" height="60.7"/><rect class="ob" x="247.5" y="0" width="480" height="60.7"/>
<text class="sg" x="238.5" y="77">171</text><text class="sn" x="238.5" y="89.4">86784</text><text class="sp" x="238.5" y="102.7">25.00%</text>
<text class="sg" x="478.5" y="77">261</text><text class="sn" x="478.5" y="89.4">89916</text><text class="sp" x="478.5" y="102.7">13.00%</text>
<text class="sg" x="718.5" y="77">288</text><text class="sn" x="718.5" y="89.4">93372</text><text class="sp" x="718.5" y="102.7">0.50%</text>
<text class="sg" x="958.5" y="77">81</text><text class="sn" x="958.5" y="89.4">94086</text><text class="sp" x="958.5" y="102.7">0.00%</text>
</g>

<g id="row18" transform="translate(31.3,2836.3)">
<use href="#staff"/>
<text class="mn" x="1" y="-7">69</text><text class="mn" x="241" y="-7">70</text><text class="mn" x="481" y="-7">71</text><text class="mn" x="721" y="-7">72</text>
<text class="tp" x="0" y="-33">♩=163</text><text class="tp" x="240" y="-33">♩=162</text><text class="tp" x="480" y="-33">♩=162</text><text class="tp" x="720" y="-33">♩=163</text>
<rect class="B" x="0" y="41.5" width="135" height="7"/><rect class="O" x="240" y="57" width="75" height="7"/><rect class="B" x="330" y="41.5" width="45" height="7"/><rect class="Y" x="480" y="26.5" width="135" height="7"/><rect class="Y" x="720" y="26.5" width="225" height="7"/>
<use href="#n" class="B" x="0" y="45"/><use href="#n" class="B" x="150" y="45"/><use href="#n" class="Y" x="180" y="30"/><use href="#n" class="B" x="210" y="45"/><use href="#n" class="O" x="240" y="60.5"/><use href="#n" class="B" x="330" y="45"/><use href="#n" class="Y" x="390" y="30"/><use href="#n" class="B" x="420" y="45"/><use href="#n" class="R" x="450" y="15"/><use href="#n" class="Y" x="480" y="30"/><use href="#n" class="G" x="630" y="0"/><use href="#n" class="R" x="660" y="15"/><use href="#n" class="G" x="690" y="0"/><use href="#n" class="Y" x="720" y="30"/>
<text class="sg" x="238.5" y="77">171</text><text class="sn" x="238.5" y="89.4">95112</text><text class="sp" x="238.5" y="102.7">0.00%</text>
<text class="sg" x="478.5" y="77">204</text><text class="sn" x="478.5" y="89.4">96336</text><text class="sp" x="478.5" y="102.7">0.00%</text>
<text class="sg" x="718.5" y="77">171</text><text class="sn" x="718.5" y="89.4">97362</text><text class="sp" x="718.5" y="102.7">0.00%</text>
<text class="sg" x="958.5" y="77">81</text><text class="sn" x="958.5" y="89.4">97848</text><text class="sp" x="958.5" y="102.7">0.00%</text>
</g>

<g id="row19" transform="translate(31.3,2990.3)">
<use href="#staff"/>
<text class="mn" x="1" y="-7">73</text><text class="mn" x="241" y="-7">74</text><text class="mn" x="481" y="-7">75</text><text class="mn" x="721" y="-7">76</text>
<text class="tp" x="0" y="-33">♩=161</text><text class="tp" x="240" y="-33">♩=163</text><text class="tp" x="480" y="-33">♩=161</text><text class="tp" x="720" y="-33">♩=163</text>
<rect class="B" x="0" y="41.5" width="135" height="7"/><rect class="G" x="240" y="-3.5" width="75" height="7"/><rect class="R" x="330" y="11.5" width="45" height="7"/><rect class="Y" x="480" y="26.5" width="135" height="7"/><rect class="Y" x="720" y="26.5" width="225" height="7"/>
<use href="#s" class="B" x="0" y="45"/><use href="#s" class="R" x="150" y="15"/><use href="#s" class="Y" x="180" y="30"/>
<use href="#n" class="R" x="210" y="15"/><use href="#n" class="G" x="240" y="0"/><use href="#n" class="R" x="330" y="15"/><use href="#n" class="B" x="390" y="45"/><use href="#n" class="O" x="420" y="60.5"/><use href="#n" class="B" x="450" y="45"/><use href="#n" class="Y" x="480" y="30"/><use href="#n" class="G" x="630" y="0"/><use href="#n" class="R" x="660" y="15"/><use href="#n" class="G" x="690" y="0"/><use href="#n" class="Y" x="720" y="30"/>
<rect class="og" x="0" y="0" width="180" height="60.7"/>
<text class="sg" x="238.5" y="77">171</text><text class="sn" x="238.5" y="89.4">98874</text><text class="sp" x="238.5" y="102.7">25.00%</text>
<text class="sg" x="478.5" y="77">204</text><text class="sn" x="478.5" y="89.4">100098</text><text class="sp" x="478.5" y="102.7">25.00%</text>
<text class="sg" x="718.5" y="77">171</text><text class="sn" x="718.5" y="89.4">101124</text><text class="sp" x="718.5" y="102.7">25.00%</text>
<text class="sg" x="958.5" y="77">81</text><text class="sn" x="958.5" y="89.4">101610</text><text class="sp" x="958.5" y="102.7">25.00%</text>
</g>

<g id="row20" transform="translate(31.3,3144.3)">
<use href="#staff"/>
<text class="mn" x="1" y="-7">77</text><text class="mn" x="241" y="-7">78</text><text class="mn" x="481" y="-7">79</text><text class="mn" x="721" y="-7">80</text>
<text class="tp" x="0" y="-33">♩=162</text><text class="tp" x="240" y="-33">♩=163</text><text class="tp" x="480" y="-33">♩=160</text><text class="tp" x="720" y="-33">♩=163</text>
<rect class="B" x="0" y="41.5" width="135" height="7"/><rect class="O" x="240" y="57" width="75" height="7"/><rect class="B" x="330" y="41.5" width="45" height="7"/><rect class="Y" x="480" y="26.5" width="135" height="7"/><rect class="Y" x="720" y="26.5" width="165" height="7"/>
<use href="#n" class="B" x="0" y="45"/><use href="#n" class="B" x="150" y="45"/><use href="#n" class="Y" x="180" y="30"/><use href="#n" class="B" x="210" y="45"/><use href="#n" class="O" x="240" y="60.5"/><use href="#n" class="B" x="330" y="45"/><use href="#n" class="Y" x="390" y="30"/><use href="#n" class="B" x="420" y="45"/><use href="#n" class="R" x="450" y="15"/><use href="#n" class="Y" x="480" y="30"/><use href="#n" class="G" x="630" y="0"/><use href="#n" class="R" x="660" y="15"/><use href="#n" class="G" x="690" y="0"/><use href="#n" class="Y" x="720" y="30"/><use href="#n" class="R" x="900" y="15"/><use href="#n" class="Y" x="930" y="30"/>
<text class="sg" x="238.5" y="77">171</text><text class="sn" x="238.5" y="89.4">102636</text><text class="sp" x="238.5" y="102.7">25.00%</text>
<text class="sg" x="478.5" y="77">204</text><text class="sn" x="478.5" y="89.4">103860</text><text class="sp" x="478.5" y="102.7">25.00%</text>
<text class="sg" x="718.5" y="77">171</text><text class="sn" x="718.5" y="89.4">104886</text><text class="sp" x="718.5" y="102.7">25.00%</text>
<text class="sg" x="958.5" y="77">141</text><text class="sn" x="958.5" y="89.4">105732</text><text class="sp" x="958.5" y="102.7">25.00%</text>
</g>

<g id="row21" transform="translate(31.3,3298.3)">
<use href="#staff"/>
<text class="mn" x="1" y="-7">81</text><text class="mn" x="241" y="-7">82</text><text class="mn" x="481" y="-7">83</text><text class="mn" x="721" y="-7">84</text>
<text class="tp" x="0" y="-33">♩=162</text><text class="tp" x="240" y="-33">♩=164</text><text class="tp" x="480" y="-33">♩=163</text><text class="tp" x="720" y="-33">♩=161</text>
<rect class="G" x="0" y="-3.5" width="135" height="7"/><rect class="O" x="240" y="57" width="45" height="7"/><rect class="B" x="330" y="41.5" width="45" height="7"/><rect class="Y" x="480" y="26.5" width="45" height="7"/><rect class="R" x="570" y="11.5" width="45" height="7"/><rect class="G" x="720" y="-3.5" width="45" height="7"/><rect class="R" x="840" y="11.5" width="45" height="7"/>
<use href="#n" class="G" x="0" y="0"/><use href="#n" class="R" x="150" y="15"/><use href="#n" class="Y" x="180" y="30"/><use href="#n" class="B" x="210" y="45"/><use href="#n" class="O" x="240" y="60.5"/><use href="#n" class="O" x="300" y="60.5"/><use href="#n" class="B" x="330" y="45"/><use href="#n" class="B" x="390" y="45"/><use href="#n" class="B" x="420" y="45"/><use href="#n" class="B" x="450" y="45"/><use href="#n" class="Y" x="480" y="30"/><use href="#n" class="Y" x="540" y="30"/><use href="#n" class="R" x="570" y="15"/><use href="#n" class="R" x="630" y="15"/><use href="#n" class="Y" x="660" y="30"/><use href="#n" class="R" x="690" y="15"/><use href="#n" class="G" x="720" y="0"/><use href="#n" class="R" x="780" y="15"/><use href="#n" class="B" x="810" y="45"/><use href="#n" class="R" x="840" y="15"/><use href="#n" class="R" x="900" y="15"/><use href="#n" class="B" x="930" y="45"/>
<rect class="op" x="240" y="0" width="7.5" height="60.7"/><rect class="ob" x="247.5" y="0" width="480" height="60.7"/>
<text class="sg" x="238.5" y="77">171</text><text class="sn" x="238.5" y="89.4">106758</text><text class="sp" x="238.5" y="102.7">25.00%</text>
<text class="sg" x="478.5" y="77">234</text><text class="sn" x="478.5" y="89.4">109566</text><text class="sp" x="478.5" y="102.7">13.00%</text>
<text class="sg" x="718.5" y="77">234</text><text class="sn" x="718.5" y="89.4">112374</text><text class="sp" x="718.5" y="102.7">0.50%</text>
<text class="sg" x="958.5" y="77">234</text><text class="sn" x="958.5" y="89.4">114006</text><text class="sp" x="958.5" y="102.7">0.00%</text>
</g>

<g id="row22" transform="translate(31.3,3452.3)">
<use href="#staff"/>
<text class="mn" x="1" y="-7">85</text><text class="mn" x="241" y="-7">86</text><text class="mn" x="481" y="-7">87</text><text class="mn" x="721" y="-7">88</text>
<text class="tp" x="0" y="-33">♩=161</text><text class="tp" x="240" y="-33">♩=162</text><text class="tp" x="480" y="-33">♩=165</text><text class="tp" x="720" y="-33">♩=158</text>
<rect class="Y" x="0" y="26.5" width="45" height="7"/><rect class="G" x="120" y="-3.5" width="45" height="7"/><rect class="G" x="240" y="-3.5" width="45" height="7"/><rect class="R" x="360" y="11.5" width="45" height="7"/><rect class="Y" x="480" y="26.5" width="45" height="7"/><rect class="G" x="720" y="-3.5" width="45" height="7"/><rect class="R" x="840" y="11.5" width="45" height="7"/>
<use href="#s" class="Y" x="0" y="30"/><use href="#s" class="Y" x="60" y="30"/><use href="#s" class="B" x="90" y="45"/><use href="#s" class="G" x="120" y="0"/><use href="#s" class="R" x="180" y="15"/>
<use href="#n" class="B" x="210" y="45"/><use href="#n" class="G" x="240" y="0"/><use href="#n" class="R" x="300" y="15"/><use href="#n" class="B" x="330" y="45"/><use href="#n" class="R" x="360" y="15"/><use href="#n" class="R" x="420" y="15"/><use href="#n" class="B" x="450" y="45"/><use href="#n" class="Y" x="480" y="30"/><use href="#n" class="Y" x="540" y="30"/><use href="#n" class="R" x="570" y="15"/><use href="#n" class="B" x="600" y="45"/><use href="#n" class="R" x="630" y="15"/><use href="#n" class="B" x="660" y="45"/><use href="#n" class="O" x="690" y="60.5"/><use href="#n" class="G" x="720" y="0"/><use href="#n" class="R" x="780" y="15"/><use href="#n" class="B" x="810" y="45"/><use href="#n" class="R" x="840" y="15"/><use href="#n" class="R" x="900" y="15"/><use href="#n" class="B" x="930" y="45"/>
<rect class="og" x="0" y="0" width="180" height="60.7"/><rect class="op" x="480" y="0" width="7.5" height="60.7"/><rect class="ob" x="487.5" y="0" width="472.5" height="60.7"/>
<text class="sg" x="238.5" y="77">234</text><text class="sn" x="238.5" y="89.4">115410</text><text class="sp" x="238.5" y="102.7">25.00%</text>
<text class="sg" x="478.5" y="77">234</text><text class="sn" x="478.5" y="89.4">116814</text><text class="sp" x="478.5" y="102.7">25.00%</text>
<text class="sg" x="718.5" y="77">261</text><text class="sn" x="718.5" y="89.4">119946</text><text class="sp" x="718.5" y="102.7">13.00%</text>
<text class="sg" x="958.5" y="77">234</text><text class="sn" x="958.5" y="89.4">122754</text><text class="sp" x="958.5" y="102.7">0.50%</text>
</g>

<g id="row23" transform="translate(31.3,3606.3)">
<use href="#staff"/>
<text class="mn" x="1" y="-7">89</text><text class="mn" x="241" y="-7">90</text><text class="mn" x="481" y="-7">91</text><text class="mn" x="721" y="-7">92</text>
<text class="tp" x="0" y="-33">♩=163</text><text class="tp" x="240" y="-33">♩=163</text><text class="tp" x="480" y="-33">♩=163</text><text class="tp" x="720" y="-33">♩=163</text><text class="tp" x="900" y="-33">♩=160</text>
<rect class="Y" x="0" y="26.5" width="45" height="7"/><rect class="G" x="120" y="-3.5" width="45" height="7"/><rect class="G" x="240" y="-3.5" width="45" height="7"/><rect class="R" x="360" y="11.5" width="45" height="7"/><rect class="Y" x="480" y="26.5" width="45" height="7"/><rect class="G" x="600" y="-3.5" width="45" height="7"/><rect class="G" x="720" y="-3.5" width="60" height="7"/>
<use href="#n" class="Y" x="0" y="30"/><use href="#n" class="Y" x="60" y="30"/><use href="#n" class="B" x="90" y="45"/><use href="#n" class="G" x="120" y="0"/><use href="#n" class="R" x="180" y="15"/><use href="#n" class="B" x="210" y="45"/><use href="#n" class="G" x="240" y="0"/><use href="#n" class="R" x="300" y="15"/><use href="#n" class="B" x="330" y="45"/><use href="#n" class="R" x="360" y="15"/><use href="#n" class="R" x="420" y="15"/><use href="#n" class="B" x="450" y="45"/>
<use href="#s" class="Y" x="480" y="30"/><use href="#s" class="Y" x="540" y="30"/><use href="#s" class="B" x="570" y="45"/><use href="#s" class="G" x="600" y="0"/><use href="#s" class="R" x="660" y="15"/><use href="#s" class="B" x="690" y="45"/><use href="#s" class="G" x="720" y="0"/>
<rect class="ob" x="0" y="0" width="7.5" height="60.7"/><rect class="og" x="480" y="0" width="300" height="60.7"/>
<text class="sg" x="238.5" y="77">234</text><text class="sn" x="238.5" y="89.4">124386</text><text class="sp" x="238.5" y="102.7">0.00%</text>
<text class="sg" x="478.5" y="77">234</text><text class="sn" x="478.5" y="89.4">125790</text><text class="sp" x="478.5" y="102.7">0.00%</text>
<text class="sg" x="718.5" y="77">234</text><text class="sn" x="718.5" y="89.4">127194</text><text class="sp" x="718.5" y="102.7">0.00%</text>
<text class="sg" x="958.5" y="77">48</text><text class="sn" x="958.5" y="89.4">127482</text><text class="sp" x="958.5" y="102.7">25.00%</text>
</g>

<g id="row24" transform="translate(31.3,3760.3)">
<use href="#staff"/>
<text class="mn" x="1" y="-7">93</text><text class="mn" x="241" y="-7">94</text><text class="mn" x="481" y="-7">95</text><text class="mn" x="721" y="-7">96</text>
<text class="tp" x="60" y="-33">♩=160</text><text class="tp" x="180" y="-33">♩=162</text><text class="tp" x="300" y="-33">♩=163</text><text class="tp" x="420" y="-33">♩=161</text><text class="tp" x="540" y="-33">♩=162</text><text class="tp" x="660" y="-33">♩=159</text><text class="tp" x="780" y="-33">♩=161</text><text class="tp" x="900" y="-33">♩=170</text>
<text class="sg" x="238.5" y="77">0</text><text class="sn" x="238.5" y="89.4">127482</text><text class="sp" x="238.5" y="102.7">25.00%</text>
<text class="sg" x="478.5" y="77">0</text><text class="sn" x="478.5" y="89.4">127482</text><text class="sp" x="478.5" y="102.7">25.00%</text>
<text class="sg" x="718.5" y="77">0</text><text class="sn" x="718.5" y="89.4">127482</text><text class="sp" x="718.5" y="102.7">25.00%</text>
<text class="sg" x="958.5" y="77">0</text><text class="sn" x="958.5" y="89.4">127482</text><text class="sp" x="958.5" y="102.7">25.00%</text>
</g>

<g id="row25" transform="translate(31.3,3914.3)">
<use href="#staff"/>
<text class="mn" x="1" y="-7">97</text><text class="mn" x="241" y="-7">98</text><text class="mn" x="481" y="-7">99</text><text class="mn" x="721" y="-7">100</text>
<text class="tp" x="60" y="-33">♩=160</text><text class="tp" x="180" y="-33">♩=163</text><text class="tp" x="300" y="-33">♩=164</text><text class="tp" x="420" y="-33">♩=157</text><text class="tp" x="540" y="-33">♩=167</text><text class="tp" x="720" y="-33">♩=160</text>
<rect class="G" x="720" y="-3.5" width="45" height="7"/><rect class="R" x="840" y="11.5" width="45" height="7"/>
<use href="#n" class="G" x="720" y="0"/><use href="#n" class="R" x="780" y="15"/><use href="#n" class="B" x="810" y="45"/><use href="#n" class="R" x="840" y="15"/><use href="#n" class="R" x="900" y="15"/><use href="#n" class="B" x="930" y="45"/>
<text class="sg" x="238.5" y="77">0</text><text class="sn" x="238.5" y="89.4">127482</text><text class="sp" x="238.5" y="102.7">25.00%</text>
<text class="sg" x="478.5" y="77">0</text><text class="sn" x="478.5" y="89.4">127482</text><text class="sp" x="478.5" y="102.7">25.00%</text>
<text class="sg" x="718.5" y="77">0</text><text class="sn" x="718.5" y="89.4">127482</text><text class="sp" x="718.5" y="102.7">25.00%</text>
<text class="sg" x="958.5" y="77">234</text><text class="sn" x="958.5" y="89.4">128886</text><text class="sp" x="958.5" y="102.7">25.00%</text>
</g>

<g id="row26" transform="translate(31.3,4068.3)">
<use href="#staff"/>
<text class="mn" x="1" y="-7">101</text><text class="mn" x="241" y="-7">102</text><text class="mn" x="481" y="-7">103</text><text class="mn" x="721" y="-7">104</text>
<text class="tp" x="0" y="-33">♩=161</text><text class="tp" x="240" y="-33">♩=164</text><text class="tp" x="480" y="-33">♩=165</text><text class="tp" x="720" y="-33">♩=160</text>
<rect class="Y" x="0" y="26.5" width="45" height="7"/><rect class="G" x="120" y="-3.5" width="45" height="7"/><rect class="G" x="240" y="-3.5" width="45" height="7"/><rect class="R" x="360" y="11.5" width="45" height="7"/><rect class="Y" x="480" y="26.5" width="45" height="7"/><rect class="G" x="720" y="-3.5" width="45" height="7"/><rect class="R" x="840" y="11.5" width="45" height="7"/>
<use href="#n" class="Y" x="0" y="30"/><use href="#n" class="Y" x="60" y="30"/><use href="#n" class="B" x="90" y="45"/><use href="#n" class="G" x="120" y="0"/><use href="#n" class="R" x="180" y="15"/><use href="#n" class="B" x="210" y="45"/><use href="#n" class="G" x="240" y="0"/><use href="#n" class="R" x="300" y="15"/><use href="#n" class="B" x="330" y="45"/><use href="#n" class="R" x="360" y="15"/><use href="#n" class="R" x="420" y="15"/><use href="#n" class="B" x="450" y="45"/><use href="#n" class="Y" x="480" y="30"/><use href="#n" class="Y" x="540" y="30"/><use href="#n" class="R" x="570" y="15"/><use href="#n" class="B" x="600" y="45"/><use href="#n" class="R" x="630" y="15"/><use href="#n" class="B" x="660" y="45"/><use href="#n" class="O" x="690" y="60.5"/><use href="#n" class="G" x="720" y="0"/><use href="#n" class="R" x="780" y="15"/><use href="#n" class="B" x="810" y="45"/><use href="#n" class="R" x="840" y="15"/><use href="#n" class="R" x="900" y="15"/><use href="#n" class="B" x="930" y="45"/>
<rect class="op" x="240" y="0" width="7.5" height="60.7"/><rect class="ob" x="247.5" y="0" width="480" height="60.7"/>
<text class="sg" x="238.5" y="77">234</text><text class="sn" x="238.5" y="89.4">130290</text><text class="sp" x="238.5" y="102.7">25.00%</text>
<text class="sg" x="478.5" y="77">234</text><text class="sn" x="478.5" y="89.4">133098</text><text class="sp" x="478.5" y="102.7">13.00%</text>
<text class="sg" x="718.5" y="77">261</text><text class="sn" x="718.5" y="89.4">136230</text><text class="sp" x="718.5" y="102.7">0.50%</text>
<text class="sg" x="958.5" y="77">234</text><text class="sn" x="958.5" y="89.4">137862</text><text class="sp" x="958.5" y="102.7">0.00%</text>
</g>

<g id="row27" transform="translate(31.3,4222.3)">
<use href="#staff"/>
<text class="mn" x="1" y="-7">105</text><text class="mn" x="241" y="-7">106</text><text class="mn" x="481" y="-7">107</text><text class="mn" x="721" y="-7">108</text>
<text class="tp" x="0" y="-33">♩=160</text><text class="tp" x="240" y="-33">♩=166</text><text class="tp" x="420" y="-33">♩=165</text><text class="tp" x="480" y="-33">♩=165</text><text class="tp" x="540" y="-33">♩=159</text>
<rect class="Y" x="0" y="26.5" width="45" height="7"/><rect class="G" x="120" y="-3.5" width="45" height="7"/><rect class="G" x="240" y="-3.5" width="45" height="7"/><rect class="R" x="360" y="11.5" width="45" height="7"/><rect class="G" x="570" y="-3.5" width="255" height="7"/><rect class="G" x="840" y="-3.5" width="75" height="7"/>
<use href="#n" class="Y" x="0" y="30"/><use href="#n" class="Y" x="60" y="30"/><use href="#n" class="B" x="90" y="45"/><use href="#n" class="G" x="120" y="0"/><use href="#n" class="R" x="180" y="15"/><use href="#n" class="B" x="210" y="45"/><use href="#n" class="G" x="240" y="0"/><use href="#n" class="R" x="300" y="15"/><use href="#n" class="B" x="330" y="45"/><use href="#n" class="R" x="360" y="15"/><use href="#n" class="R" x="420" y="15"/><use href="#n" class="O" x="450" y="60.5"/><use href="#n" class="B" x="480" y="45"/><use href="#n" class="Y" x="510" y="30"/><use href="#n" class="R" x="540" y="15"/><use href="#n" class="G" x="570" y="0"/><use href="#n" class="G" x="840" y="0"/>
<text class="sg" x="238.5" y="77">234</text><text class="sn" x="238.5" y="89.4">139266</text><text class="sp" x="238.5" y="102.7">0.00%</text>
<text class="sg" x="478.5" y="77">234</text><text class="sn" x="478.5" y="89.4">140670</text><text class="sp" x="478.5" y="102.7">0.00%</text>
<text class="sg" x="718.5" y="77">174</text><text class="sn" x="718.5" y="89.4">141714</text><text class="sp" x="718.5" y="102.7">0.00%</text>
<text class="sg" x="958.5" y="77">72</text><text class="sn" x="958.5" y="89.4">142146</text><text class="sp" x="958.5" y="102.7">0.00%</text>
</g>
</g>
</svg>
